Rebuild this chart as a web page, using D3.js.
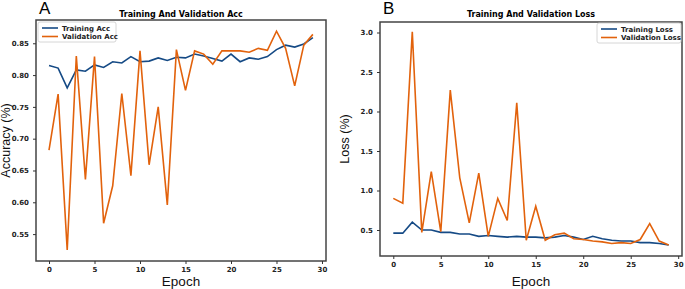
<!DOCTYPE html>
<html><head><meta charset="utf-8">
<script src="https://cdn.jsdelivr.net/npm/d3@7"></script>
<style>body{margin:0;background:#fff}svg{display:block}</style>
</head><body>
<svg id="c" width="685" height="289"></svg>
<script>
const epochs = d3.range(30);
const trainAcc = [0.815,0.811,0.780,0.808,0.806,0.816,0.812,0.821,0.819,0.829,0.821,0.822,0.827,0.823,0.828,0.827,0.833,0.830,0.826,0.822,0.833,0.821,0.827,0.825,0.829,0.840,0.847,0.844,0.849,0.859];
const valAcc = [0.682,0.770,0.525,0.830,0.636,0.829,0.567,0.626,0.771,0.642,0.838,0.659,0.750,0.596,0.840,0.776,0.838,0.833,0.817,0.838,0.838,0.838,0.836,0.842,0.839,0.869,0.842,0.783,0.847,0.864];
const trainLoss = [0.46,0.46,0.60,0.50,0.50,0.47,0.47,0.45,0.45,0.42,0.43,0.42,0.41,0.42,0.41,0.41,0.40,0.41,0.43,0.41,0.38,0.42,0.39,0.37,0.36,0.36,0.34,0.34,0.33,0.31];
const valLoss = [0.90,0.84,3.01,0.47,1.24,0.48,2.27,1.16,0.59,1.22,0.42,0.90,0.62,2.11,0.37,0.80,0.37,0.44,0.46,0.39,0.38,0.36,0.35,0.33,0.34,0.33,0.38,0.58,0.36,0.31];
const xTicks = [0,5,10,15,20,25,30];
const accTicks = [0.55,0.60,0.65,0.70,0.75,0.80,0.85];
const lossTicks = [0.5,1.0,1.5,2.0,2.5,3.0];

const blue = "#154a85", orange = "#e2620c";
const svg = d3.select("#c");

function panel(o){
  const g = svg.append("g");
  const x = d3.scaleLinear().domain(o.xd).range([o.l,o.r]);
  const y = d3.scaleLinear().domain(o.yd).range([o.b,o.t]);
  const ln = d3.line().x((d,i)=>x(epochs[i])).y(d=>y(d));
  g.append("path").datum(o.s1).attr("d",ln).attr("fill","none").attr("stroke",blue).attr("stroke-width",1.6);
  g.append("path").datum(o.s2).attr("d",ln).attr("fill","none").attr("stroke",orange).attr("stroke-width",1.6);
  g.append("rect").attr("x",o.l).attr("y",o.t).attr("width",o.r-o.l).attr("height",o.b-o.t)
    .attr("fill","none").attr("stroke","#444").attr("stroke-width",1.5);
  const xa = g.append("g").attr("transform",`translate(0,${o.b})`)
    .call(d3.axisBottom(x).tickValues(xTicks).tickSize(3).tickPadding(3));
  const ya = g.append("g").attr("transform",`translate(${o.l},0)`)
    .call(d3.axisLeft(y).tickValues(o.yt).tickSize(3).tickPadding(4).tickFormat(o.fmt));
  [xa,ya].forEach(a=>{a.select(".domain").remove();
    a.selectAll("text").attr("font-family","DejaVu Sans").attr("font-size",7).attr("font-weight","bold").attr("fill","#222");
    a.selectAll("line").attr("stroke","#333");});
  svg.append("text").attr("x",(o.l+o.r)/2).attr("y",17).attr("text-anchor","middle")
    .attr("font-family","DejaVu Sans").attr("font-size",8).attr("font-weight","bold").text(o.title);
  svg.append("text").attr("x",o.l+3).attr("y",14).attr("font-family","Liberation Sans").attr("font-size",17).text(o.tag);
  svg.append("text").attr("x",(o.l+o.r)/2).attr("y",286).attr("text-anchor","middle")
    .attr("font-family","Liberation Sans").attr("font-size",13.5).attr("fill","#111").text("Epoch");
  svg.append("text").attr("transform",`translate(${o.yl},${(o.t+o.b)/2}) rotate(-90)`).attr("text-anchor","middle")
    .attr("font-family","Liberation Sans").attr("font-size",12.5).attr("fill","#111").text(o.ylab);
  // legend
  const lg = svg.append("g").attr("transform",`translate(${o.lx},${o.ly})`);
  lg.append("rect").attr("width",o.lw).attr("height",20).attr("fill","#fff").attr("stroke","#ccc").attr("stroke-width",0.8).attr("rx",2);
  [[o.n1,blue],[o.n2,orange]].forEach((e,i)=>{
    lg.append("line").attr("x1",4).attr("x2",20).attr("y1",6+i*8.5).attr("y2",6+i*8.5).attr("stroke",e[1]).attr("stroke-width",1.6);
    lg.append("text").attr("x",24).attr("y",8.5+i*8.5).attr("font-family","DejaVu Sans").attr("font-size",7).attr("font-weight","bold").attr("fill","#222").text(e[0]);
  });
}

panel({l:36,r:326,t:20,b:261,xd:[-1.43,30.44],yd:[0.5077,0.8866],yt:accTicks,fmt:d3.format(".2f"),
  s1:trainAcc,s2:valAcc,title:"Training And Validation Acc",tag:"A",ylab:"Accuracy (%)",yl:10,
  lx:38,ly:22,lw:78,n1:"Training Acc",n2:"Validation Acc"});
panel({l:380,r:682,t:22,b:256,xd:[-1.4,30.4],yd:[0.171,3.133],yt:lossTicks,fmt:d3.format(".1f"),
  s1:trainLoss,s2:valLoss,title:"Training And Validation Loss",tag:"B",ylab:"Loss (%)",yl:349,
  lx:597,ly:23,lw:84,n1:"Training Loss",n2:"Validation Loss"});
</script>
</body></html>
